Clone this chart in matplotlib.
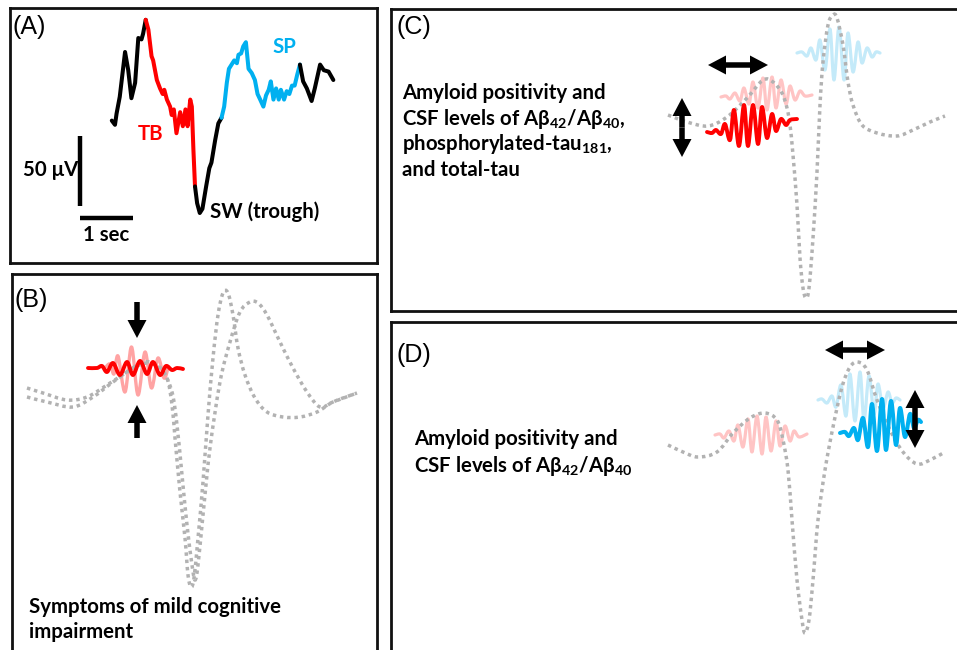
import numpy as np
import matplotlib
matplotlib.use("Agg")
import matplotlib.pyplot as plt
from matplotlib.path import Path
from matplotlib.patches import PathPatch

# ---------------- data ----------------
# Panel A: EEG trace (time in s, amplitude in µV), split by event type
eeg_t_black1 = [0.60, 0.66, 0.69, 0.75, 0.85, 0.91, 0.97, 1.04, 1.10, 1.16, 1.19, 1.24]
eeg_v_black1 = [66, 63, 71, 83, 115, 102, 82, 93, 125, 124, 128, 138]
eeg_t_tb = [1.24, 1.29, 1.35, 1.38, 1.45, 1.51, 1.56, 1.59, 1.64, 1.70, 1.73, 1.77, 1.82,
            1.89, 1.94, 1.99, 2.03, 2.08, 2.11, 2.14, 2.17]
eeg_v_tb = [138, 131, 112, 109, 95, 89, 85, 88, 81, 76, 70, 74, 57, 72, 62, 74, 62, 81, 76, 45, 19]
eeg_t_black2 = [2.17, 2.21, 2.26, 2.31, 2.38, 2.44, 2.48, 2.55, 2.61, 2.67]
eeg_v_black2 = [19, 7, 0, 3, 19, 32, 36, 52, 64, 68]
eeg_t_sp = [2.67, 2.72, 2.77, 2.81, 2.86, 2.91, 2.96, 2.99, 3.04, 3.08, 3.13, 3.18, 3.24, 3.30,
            3.35, 3.40, 3.46, 3.51, 3.56, 3.60, 3.65, 3.70, 3.75, 3.79, 3.85, 3.90, 3.95, 4.00,
            4.05, 4.10, 4.15]
eeg_v_sp = [68, 76, 93, 103, 106, 109, 107, 113, 114, 119, 122, 103, 100, 95, 85, 81, 76, 84,
            88, 94, 81, 89, 81, 88, 81, 87, 85, 91, 91, 99, 106]
eeg_t_black3 = [4.15, 4.21, 4.28, 4.37, 4.43, 4.53, 4.60, 4.69, 4.78]
eeg_v_black3 = [106, 94, 89, 80, 89, 106, 102, 101, 95]
scale_uv = 50
scale_sec = 1

# Panel B: two slow waves (time a.u. rel. to trough, amplitude a.u.)
b_sw1_t = [-164, -148, -124, -104, -84, -64, -48, -34, -24, -19, -16, -11, -6, -3, 0, 3, 7, 12,
           17, 22, 27, 32, 37, 42, 47, 54, 64, 76, 92, 109, 126, 142, 166]
b_sw1_v = [7, 2, -5, -2, 10, 23, 33, 30, 17, -10, -43, -97, -143, -180, -192, -183, -143, -87,
           -20, 37, 80, 102, 102, 80, 47, 20, -3, -17, -22, -22, -17, -7, 2]
b_sw2_t = [-164, -144, -118, -98, -78, -58, -41, -28, -19, -14, -9, -4, 1, 4, 7, 12, 19, 29, 39,
           49, 59, 67, 76, 89, 102, 116, 129, 142, 166]
b_sw2_v = [-2, -7, -12, -2, 13, 27, 32, 23, 3, -30, -80, -130, -170, -185, -170, -120, -53, 13,
           53, 83, 93, 92, 80, 53, 27, 3, -12, -7, 2]
b_tb_t = [-103, -94, -89, -84, -78, -71, -64, -58, -51, -44, -38, -31, -25, -19, -14, -8]
b_tb_v = [27, 27, 29, 23, 32, 20, 33, 20, 34, 21, 33, 20, 29, 25, 27, 26]
b_tb0_t = [-86, -81, -77, -73, -66, -59.5, -53, -46, -39.5, -33, -27, -23]
b_tb0_v = [27, 31, 21, 39, 3, 48, 0, 43, 7, 37, 17, 27]

# Panel C
c_sw_t = [-138, -119, -98, -79, -59, -43, -33, -24, -19, -16, -13, -9, -6, -3, 0, 3, 7, 11, 14,
          17, 22, 27, 31, 37, 42, 47, 56, 71, 91, 107, 124, 139]
c_sw_v = [10, 3, -1, 8, 27, 45, 43, 32, 17, 0, -30, -80, -133, -163, -173, -163, -113, -47, 20,
          63, 100, 110, 107, 80, 43, 20, 0, -8, -11, -5, 3, 9]
c_tb_t = [-99, -94, -90, -85, -81, -76, -72, -67, -62, -58, -53, -48, -44, -39, -34, -30, -25,
          -20, -16, -9]
c_tb_v = [-7, -8, -5, -9, 1, -15, 15, -21, 20, -21, 20, -19, 18, -13, 11, -6, 6, 0, 5, 6]
c_tb0_t = [-85, -80, -76, -71, -66, -62, -57, -53, -48, -43, -39, -34, -30, -25, -20, -16, -11,
           -6, -1, 6]
c_tb0_v = [28, 29, 26, 32, 24, 37, 21, 43, 17, 47, 15, 48, 17, 45, 21, 39, 25, 34, 29, 30]
c_sp0_t = [-9, -4, 1, 5, 10, 14, 19, 24, 28, 33, 38, 42, 47, 52, 56, 61, 66, 70, 74]
c_sp0_v = [72, 73, 69, 77, 65, 85, 55, 96, 45, 98, 45, 92, 53, 83, 62, 77, 68, 73, 72]

# Panel D
d_sw_t = [-137, -122, -107, -88, -72, -55, -40, -28, -22, -17, -13, -8, -3, 0, 4, 8, 13, 20, 28,
          37, 45, 53, 62, 72, 85, 98, 112, 125, 140]
d_sw_v = [5, -2, -7, -2, 17, 32, 37, 30, 10, -20, -70, -130, -170, -183, -170, -130, -70, -20,
          23, 63, 83, 88, 80, 50, 20, -2, -14, -10, -2]
d_tb0_t = [-90, -85, -81, -76, -71, -67, -62, -57, -53, -48, -43, -39, -34, -29, -25, -20, -15,
           -11, -6, 2]
d_tb0_v = [15, 16, 12, 19, 9, 25, 3, 31, -2, 34, -4, 33, -1, 29, 4, 24, 9, 19, 13, 16]
d_sp0_t = [13, 17, 22, 27, 31, 36, 41, 45, 50, 55, 59, 64, 69, 73, 78, 83, 87, 91, 95]
d_sp0_v = [50, 51, 47, 54, 43, 65, 34, 76, 29, 78, 30, 74, 36, 66, 42, 58, 47, 52, 50]
d_sp_t = [35, 40, 44, 49, 53, 58, 63, 67, 72, 77, 81, 86, 91, 95, 100, 105, 109, 113, 116]
d_sp_v = [17, 18, 14, 22, 10, 32, 3, 46, -1, 51, 0, 49, 5, 42, 13, 36, 22, 30, 28]

# ---------------- style ----------------
W, H = 957, 650
RED = "#FF0000"
BLUE = "#00B0F0"
RED_FADE_B = "#FFA3A3"
RED_FADE = "#FFC4C4"
BLUE_FADE = "#C4EAF9"
GRAY = "#B2B2B2"
plt.rcParams["font.family"] = ["Lato", "DejaVu Sans"]
plt.rcParams["mathtext.fontset"] = "custom"
plt.rcParams["mathtext.rm"] = "Lato:bold"
plt.rcParams["mathtext.bf"] = "Lato:bold"
plt.rcParams["mathtext.it"] = "Lato:bold:italic"

fig = plt.figure(figsize=(W / 100, H / 100), dpi=100)


def add_panel(l, t, r, b, ox, oy, sx=1.0, sy=1.0):
    ax = fig.add_axes([l / W, 1 - b / H, (r - l) / W, (b - t) / H])
    ax.set_xlim((l - ox) / sx, (r - ox) / sx)
    ax.set_ylim((oy - b) / sy, (oy - t) / sy)
    ax.set_xticks([])
    ax.set_yticks([])
    for s in ax.spines.values():
        s.set_linewidth(2.0)
        s.set_color("#111111")
    return ax


def curve_path(xs, ys):
    pts = np.column_stack([xs, ys]).astype(float)
    p = np.vstack([pts[0], pts, pts[-1]])
    verts = [pts[0]]
    codes = [Path.MOVETO]
    for i in range(1, len(p) - 2):
        p0, p1, p2, p3 = p[i - 1], p[i], p[i + 1], p[i + 2]
        verts += [p1 + (p2 - p0) / 6, p2 - (p3 - p1) / 6, p2]
        codes += [Path.CURVE4] * 3
    return Path(verts, codes)


def smooth(ax, xs, ys, color, lw, z=2):
    ax.add_patch(PathPatch(curve_path(xs, ys), fill=False, edgecolor=color, lw=lw,
                           zorder=z, capstyle="round", joinstyle="round"))


def dotted(ax, xs, ys):
    ax.add_patch(PathPatch(curve_path(xs, ys), fill=False, edgecolor=GRAY, lw=2.5,
                           linestyle=(0, (1, 1.1)), zorder=3, capstyle="butt"))


def arrow(ax, x, y, dx, dy, double=False):
    kw = dict(width=5.5, head_width=19, head_length=18, length_includes_head=True,
              fc="black", ec="none", zorder=6)
    if double:
        ax.arrow(x, y, dx / 2, dy / 2, **kw)
        ax.arrow(x, y, -dx / 2, -dy / 2, **kw)
    else:
        ax.arrow(x, y, dx, dy, **kw)


def ftext(x, y, s, **kw):
    fig.text(x / W, 1 - y / H, s, va="baseline", ha="left", **kw)


# ---------------- Panel A ----------------
axA = add_panel(10, 8, 377, 263, 80, 213, sx=53.0, sy=1.4)
for tt, vv, cc in [(eeg_t_black1, eeg_v_black1, "black"), (eeg_t_tb, eeg_v_tb, RED),
                   (eeg_t_black2, eeg_v_black2, "black"), (eeg_t_sp, eeg_v_sp, BLUE),
                   (eeg_t_black3, eeg_v_black3, "black")]:
    axA.plot(tt, vv, color=cc, lw=2.9, solid_joinstyle="round", solid_capstyle="round")
axA.plot([0, 0], [5, 5 + scale_uv], color="black", lw=3.2, solid_capstyle="butt")
axA.plot([0, scale_sec], [-3.6, -3.6], color="black", lw=3.2, solid_capstyle="butt")

# ---------------- Panel B ----------------
axB = add_panel(12, 274, 377, 700, 191, 395)
smooth(axB, b_tb0_t, b_tb0_v, RED_FADE_B, 2.4, z=2)
dotted(axB, b_sw1_t, b_sw1_v)
dotted(axB, b_sw2_t, b_sw2_v)
smooth(axB, b_tb_t, b_tb_v, RED, 2.8, z=4)
arrow(axB, -54, 93, 0, -36)
arrow(axB, -54, -43, 0, 33)

# ---------------- Panel C ----------------
axC = add_panel(391, 9, 1000, 311, 806, 125)
smooth(axC, c_tb0_t, c_tb0_v, RED_FADE, 2.3, z=2)
smooth(axC, c_sp0_t, c_sp0_v, BLUE_FADE, 2.3, z=2)
dotted(axC, c_sw_t, c_sw_v)
smooth(axC, c_tb_t, c_tb_v, RED, 2.8, z=4)
arrow(axC, -68, 60, 60, 0, double=True)
arrow(axC, -124, -2.5, 0, 59, double=True)

# ---------------- Panel D ----------------
axD = add_panel(391, 322, 1000, 700, 805, 450)
smooth(axD, d_tb0_t, d_tb0_v, RED_FADE, 2.3, z=2)
smooth(axD, d_sp0_t, d_sp0_v, BLUE_FADE, 2.3, z=2)
dotted(axD, d_sw_t, d_sw_v)
smooth(axD, d_sp_t, d_sp_v, BLUE, 2.9, z=4)
arrow(axD, 50, 100, 60, 0, double=True)
arrow(axD, 110, 31, 0, 58, double=True)

# ---------------- Text ----------------
lab = dict(family=["Liberation Sans", "DejaVu Sans"], fontsize=18)
ftext(12, 34, "(A)", **lab)
ftext(14, 307, "(B)", **lab)
ftext(397, 34, "(C)", **lab)
ftext(397, 362, "(D)", **lab)

bold = dict(fontsize=14.7, fontweight="bold")
ftext(138, 140, "TB", color=RED, **bold)
ftext(272, 53, "SP", color=BLUE, **bold)
ftext(210, 218, "SW (trough)", color="black", **bold)
ftext(23, 176, "50 μV", color="black", **bold)
ftext(83, 241, "1 sec", color="black", **bold)

c_lines = ["Amyloid positivity and", r"CSF levels of Aβ$_{42}$/Aβ$_{40}$,",
           r"phosphorylated-tau$_{181}$,", "and total-tau"]
for i, s in enumerate(c_lines):
    ftext(402, 99 + 25.7 * i, s, **bold)

d_lines = ["Amyloid positivity and", r"CSF levels of Aβ$_{42}$/Aβ$_{40}$"]
for i, s in enumerate(d_lines):
    ftext(414, 445 + 27 * i, s, **bold)

b_lines = ["Symptoms of mild cognitive", "impairment"]
for i, s in enumerate(b_lines):
    ftext(29, 613 + 25 * i, s, **bold)

fig.savefig("out.png", dpi=100)
